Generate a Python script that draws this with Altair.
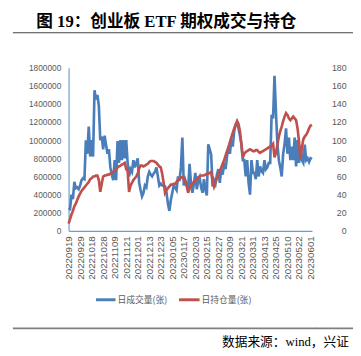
import altair as alt
import pandas as pd

# x tick labels (every 8th trading day)
date_labels = ["20220919", "20220929", "20221018", "20221028", "20221109", "20221121",
               "20221201", "20221213", "20221223", "20230105", "20230117", "20230203",
               "20230215", "20230227", "20230309", "20230321", "20230331", "20230413",
               "20230425", "20230510", "20230522", "20230601"]

# daily volume (thousand contracts), left axis
volume_k = [250, 240, 400, 350, 540, 470, 480, 460, 500, 560,
            580, 570, 1000, 850, 1150, 820, 1000, 820, 1550, 1450,
            1500, 1380, 1000, 1040, 900, 1050, 950, 850, 900, 700,
            620, 560, 780, 560, 990, 750, 1000, 780, 1000, 800,
            1000, 750, 600, 680, 650, 780, 700, 750, 800, 530,
            450, 380, 420, 500, 480, 600, 650, 620, 600, 630,
            650, 700, 600, 500, 520, 500, 500, 490, 420, 300,
            220, 340, 420, 500, 480, 450, 600, 550, 700, 1030,
            500, 560, 500, 460, 740, 520, 420, 520, 640, 460,
            550, 590, 480, 420, 570, 450, 390, 955, 900, 840,
            490, 560, 520, 620, 680, 530, 680, 620, 750, 680,
            820, 930, 850, 1000, 930, 1100, 1170, 1200, 1130, 1050,
            960, 780, 780, 600, 780, 530, 400, 780, 640, 640,
            570, 780, 600, 710, 660, 640, 780, 680, 700, 750,
            750, 1280, 1240, 1710, 1310, 960, 780, 700, 600, 850,
            960, 1130, 850, 1030, 780, 930, 780, 1030, 710, 1000,
            750, 930, 780, 750, 950, 780, 800, 760, 800, 790]

# daily open interest, right axis
open_int = [8, 13, 18, 22, 27, 30, 34, 38, 41, 44,
            46, 48, 50, 52, 54, 57, 58, 60, 60, 61,
            61, 56, 43, 52, 60, 61, 61, 62, 62, 63,
            64, 65, 66, 68, 70, 71, 72, 73, 74, 75,
            68, 66, 43, 50, 53, 56, 58, 60, 63, 69,
            72, 72, 71, 72, 73, 74, 76, 77, 77, 77,
            76, 75, 73, 71, 70, 63, 53, 42, 45, 47,
            49, 51, 51, 52, 52, 54, 56, 57, 59, 59,
            57, 55, 50, 42, 47, 51, 52, 54, 55, 57,
            59, 60, 61, 61, 61, 62, 63, 63, 64, 65,
            55, 49, 54, 58, 62, 66, 70, 74, 78, 83,
            88, 92, 98, 103, 108, 113, 117, 121, 118, 110,
            95, 81, 85, 87, 88, 89, 90, 89, 88, 88,
            89, 89, 87, 86, 87, 88, 89, 90, 91, 92,
            93, 94, 96, 81, 86, 95, 104, 110, 115, 121,
            126, 130, 128, 124, 122, 124, 126, 124, 122, 113,
            99, 79, 92, 101, 104, 106, 109, 113, 116, 117]

df = pd.DataFrame({
    "i": list(range(len(volume_k))),
    "vol": [v * 1000 for v in volume_k],
    "oi": open_int,
})

GRAY = "#595959"
AXBLUE = "#6f9bd3"
BLUE = "#4a7ebb"
RED = "#c0504d"

label_arr = "[" + ",".join("'%s'" % d for d in date_labels) + "]"

x_enc = alt.X(
    "i:Q",
    scale=alt.Scale(domain=[0, len(volume_k) - 1], nice=False, zero=False),
    axis=alt.Axis(
        values=list(range(0, len(volume_k), 8)),
        labelExpr=label_arr + "[round(datum.value/8)]",
        labelAngle=270, ticks=False, grid=False, title=None,
        domainColor=AXBLUE, domainWidth=1.2,
        labelFont="Liberation Sans", labelFontSize=10, labelColor=GRAY,
        labelPadding=5, labelOverlap=False,
    ),
)

left = alt.Chart(df).mark_line(color=BLUE, strokeWidth=2.7).encode(
    x=x_enc,
    y=alt.Y("vol:Q", scale=alt.Scale(domain=[0, 1800000], nice=False),
            axis=alt.Axis(values=list(range(0, 1800001, 200000)), format="d",
                          ticks=False, grid=False, title=None,
                          domainColor=AXBLUE, domainWidth=1.2,
                          labelFont="Liberation Sans", labelFontSize=8.5,
                          labelColor=GRAY, labelPadding=8)),
)

right = alt.Chart(df).mark_line(color=RED, strokeWidth=2.7).encode(
    x=x_enc,
    y=alt.Y("oi:Q", scale=alt.Scale(domain=[0, 180], nice=False),
            axis=alt.Axis(orient="right", values=list(range(0, 181, 20)),
                          ticks=False, grid=False, title=None, domain=False,
                          labelFont="Liberation Sans", labelFontSize=9,
                          labelColor=GRAY, labelAlign="right", labelPadding=35)),
)

one = pd.DataFrame({"a": [0]})

def txt(s, x, y, size, font, color="black", weight="normal", align="left"):
    return alt.Chart(one).mark_text(
        text=s, align=align, baseline="middle", font=font, fontSize=size,
        fontWeight=weight, color=color,
    ).encode(x=alt.value(x), y=alt.value(y))

def rule(x1, x2, y, color, w):
    return alt.Chart(one).mark_rule(color=color, strokeWidth=w).encode(
        x=alt.value(x1), x2=alt.value(x2), y=alt.value(y))

title = txt("图 19：创业板 ETF 期权成交与持仓", -33, -46.5, 17,
            "Liberation Serif, Noto Sans CJK SC", weight="bold")
title_line = rule(-57, 291, -35.7, "#404040", 1)
leg_b = rule(28, 48, 237.5, BLUE, 3)
leg_b_t = txt("日成交量(张)", 50, 237.5, 9, "Noto Sans CJK SC", color=GRAY)
leg_r = rule(113, 134, 237.5, RED, 3)
leg_r_t = txt("日持仓量(张)", 136, 237.5, 9, "Noto Sans CJK SC", color=GRAY)
src_line = rule(-57, 291, 266.7, "#7f7f7f", 1.8)
src_tick = rule(253, 253.5, 266.7, "#7f7f7f", 1.8)
src = txt("数据来源：wind，兴证", 157, 280.5, 13,
          "Liberation Serif, Noto Sans CJK SC")

chart = alt.layer(
    left, right, title, title_line, leg_b, leg_b_t, leg_r, leg_r_t, src_line, src_tick, src
).resolve_scale(y="independent").properties(
    width=249, height=167,
    autosize=alt.AutoSizeParams(type="none"),
    padding={"left": 62, "top": 57, "right": 42, "bottom": 124},
    background="white",
).configure_view(stroke=None)

chart.save("out.html", embed_options={"renderer": "svg", "actions": False})
